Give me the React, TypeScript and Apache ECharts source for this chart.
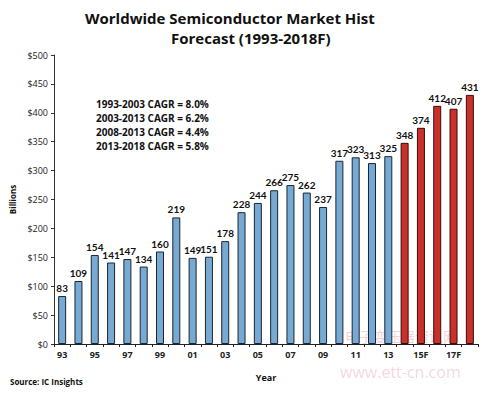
import React, { useEffect, useRef } from "react";
import * as echarts from "echarts";

const years = ["93","94","95","96","97","98","99","00","01","02","03","04","05","06","07","08","09","10","11","12","13","14","15F","16","17F","18"];
const tickLabels = ["93","","95","","97","","99","","01","","03","","05","","07","","09","","11","","13","","15F","","17F",""];
const values = [83,109,154,141,147,134,160,219,149,151,178,228,244,266,275,262,237,317,323,313,325,348,374,412,407,431];
const forecastStart = 21; // index of 2014
const yTicks = [0,50,100,150,200,250,300,350,400,450,500];
const cagrLines = [
  "1993-2003 CAGR = 8.0%",
  "2003-2013 CAGR = 6.2%",
  "2008-2013 CAGR = 4.4%",
  "2013-2018 CAGR = 5.8%",
];

export default function App() {
  const ref = useRef<HTMLDivElement>(null);
  useEffect(() => {
    if (!ref.current) return;
    const chart = echarts.init(ref.current, null, { renderer: "svg" });
    const font = "Open Sans, Lato, sans-serif";
    const narrow = "Lato, Open Sans, sans-serif";
    chart.setOption({
      animation: false,
      backgroundColor: "#ffffff",
      textStyle: { fontFamily: font },
      title: [
        { text: "Worldwide Semiconductor Market Hist", left: 80, top: 5, textStyle: { fontSize: 15, fontWeight: "bold", color: "#111", fontFamily: font } },
        { text: "Forecast (1993-2018F)", left: 166, top: 25, textStyle: { fontSize: 15, fontWeight: "bold", color: "#111", fontFamily: font } },
      ],
      grid: { left: 52, right: 22, top: 55, bottom: 51, containLabel: false },
      xAxis: {
        type: "category",
        data: years,
        name: "Year",
        nameLocation: "middle",
        nameGap: 29,
        nameTextStyle: { fontSize: 9, fontWeight: "bold", color: "#111" },
        axisLine: { lineStyle: { color: "#222", width: 1 } },
        axisTick: { show: true, interval: 0, length: 3, lineStyle: { color: "#222" } },
        axisLabel: {
          interval: 0,
          fontSize: 9,
          fontWeight: "bold",
          color: "#222",
          margin: 6,
          formatter: (_v: string, i: number) => tickLabels[i],
        },
      },
      yAxis: {
        type: "value",
        min: 0,
        max: 500,
        interval: 50,
        name: "Billions",
        nameLocation: "middle",
        nameGap: 38,
        nameRotate: 90,
        nameTextStyle: { fontSize: 8, fontWeight: "bold", color: "#111" },
        splitLine: { show: false },
        axisLine: { show: true, lineStyle: { color: "#333" } },
        axisTick: { show: true, length: 3, lineStyle: { color: "#333" } },
        axisLabel: {
          fontSize: 9,
          color: "#222",
          margin: 6,
          formatter: (v: number) => (yTicks.includes(v) ? "$" + v : ""),
        },
      },
      series: [
        {
          type: "bar",
          barWidth: 8,
          data: values.map((v, i) => ({
            value: v,
            itemStyle: {
              color: i >= forecastStart ? "#c9302c" : "#76aad3",
              borderColor: i >= forecastStart ? "#3a0a0a" : "#1a2633",
              borderWidth: 1,
            },
          })),
          label: {
            show: true,
            position: "top",
            distance: 3,
            fontSize: 10,
            fontWeight: "bold",
            color: "#111",
            fontFamily: narrow,
          },
        },
      ],
      graphic: [
        ...cagrLines.map((t, i) => ({
          type: "text",
          left: 96,
          top: 99 + i * 14,
          style: { text: t, fontSize: 10, fontWeight: "bold", fill: "#111", fontFamily: font },
        })),
        {
          type: "text",
          left: 10,
          top: 377,
          style: { text: "Source: IC Insights", fontSize: 8, fontWeight: "bold", fill: "#111", fontFamily: font },
        },
        {
          type: "text",
          left: 345,
          top: 329,
          style: { text: "电子变压器资讯网", fontSize: 14, fill: "rgba(220,120,140,0.35)", fontFamily: "Noto Sans CJK SC" },
        },
        {
          type: "text",
          left: 340,
          top: 364,
          style: { text: "www.ett-cn.com", fontSize: 16, fill: "rgba(220,120,140,0.3)", fontFamily: font },
        },
      ],
    });
    return () => chart.dispose();
  }, []);
  return <div ref={ref} style={{ width: 500, height: 395, position: "absolute", left: 0, top: 0 }} />;
}
